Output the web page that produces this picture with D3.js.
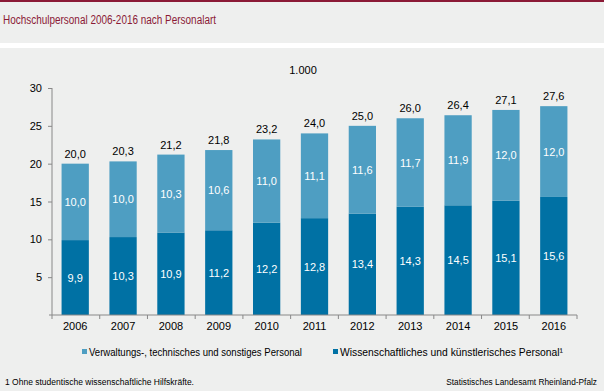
<!DOCTYPE html>
<html><head><meta charset="utf-8">
<script src="https://cdn.jsdelivr.net/npm/d3@7"></script>
<style>
html,body{margin:0;padding:0;background:#eeefee;}
svg{display:block;font-family:"Liberation Sans",Arial,sans-serif;}
</style></head>
<body><svg id="c" width="605" height="391"></svg>
<script>
const years = ["2006","2007","2008","2009","2010","2011","2012","2013","2014","2015","2016"];
const wissenschaftlich = [9.9,10.3,10.9,11.2,12.2,12.8,13.4,14.3,14.5,15.1,15.6];
const verwaltung = [10.0,10.0,10.3,10.6,11.0,11.1,11.6,11.7,11.9,12.0,12.0];
const totals = [20.0,20.3,21.2,21.8,23.2,24.0,25.0,26.0,26.4,27.1,27.6];
const yTicks = [5,10,15,20,25,30];
const seriesNames = ["Verwaltungs-, technisches und sonstiges Personal","Wissenschaftliches und künstlerisches Personal¹"];
const colors = {dark:"#0071a4", light:"#4e9ec2"};

const fmt = v => v.toFixed(1).replace(".", ",");
const svg = d3.select("#c");
svg.append("rect").attr("x",0).attr("y",0).attr("width",605).attr("height",391).attr("fill","#eeefee");
svg.append("rect").attr("x",0).attr("y",0).attr("width",605).attr("height",2).attr("fill","#8b1a36");
svg.append("rect").attr("x",0).attr("y",43).attr("width",605).attr("height",5).attr("fill","#ffffff");
svg.append("rect").attr("x",604).attr("y",0).attr("width",1).attr("height",391).attr("fill","#ffffff");
svg.append("text").attr("x",3).attr("y",24).attr("fill","#8b1a36").attr("font-size",12)
  .attr("textLength",213).attr("lengthAdjust","spacingAndGlyphs")
  .text("Hochschulpersonal 2006-2016 nach Personalart");

const x = d3.scaleBand().domain(years).range([52,577]).paddingInner(0.43).paddingOuter(0.2);
const y = d3.scaleLinear().domain([0,30]).range([315,88]);

svg.append("text").attr("x",303).attr("y",74).attr("text-anchor","middle").attr("font-size",11).attr("fill","#000").text("1.000");

const g = svg.append("g");
years.forEach((yr,i)=>{
  const d = wissenschaftlich[i], l = verwaltung[i];
  g.append("rect").attr("x",x(yr)).attr("width",x.bandwidth()).attr("y",y(d)).attr("height",y(0)-y(d)).attr("fill",colors.dark);
  g.append("rect").attr("x",x(yr)).attr("width",x.bandwidth()).attr("y",y(totals[i])).attr("height",y(d)-y(totals[i])).attr("fill",colors.light);
  const cx = x(yr)+x.bandwidth()/2;
  g.append("text").attr("x",cx).attr("y",y(d/2)+4).attr("text-anchor","middle").attr("fill","#fff").attr("font-size",11).text(fmt(d));
  g.append("text").attr("x",cx).attr("y",y((d+totals[i])/2)+4).attr("text-anchor","middle").attr("fill","#fff").attr("font-size",11).text(fmt(l));
  g.append("text").attr("x",cx).attr("y",y(totals[i])-6).attr("text-anchor","middle").attr("fill","#000").attr("font-size",11).text(fmt(totals[i]));
});

const ya = svg.append("g").attr("transform","translate(52,0)")
  .call(d3.axisLeft(y).tickValues(yTicks).tickSize(4).tickPadding(6).tickFormat(d=>d));
ya.select(".domain").attr("d","M0,88V315").attr("stroke","#888");
ya.selectAll(".tick line").attr("stroke","#888");
ya.selectAll("text").attr("font-size",11).attr("fill","#000").attr("font-family","Liberation Sans, Arial, sans-serif");

const xa = svg.append("g").attr("transform","translate(0,315)");
xa.append("line").attr("x1",49).attr("x2",577).attr("y1",0).attr("y2",0).attr("stroke","#888");
const step = (577-52)/years.length;
d3.range(years.length+1).forEach(k=>{
  xa.append("line").attr("x1",52+k*step).attr("x2",52+k*step).attr("y1",0).attr("y2",4).attr("stroke","#888");
});
years.forEach(yr=>{
  xa.append("text").attr("x",x(yr)+x.bandwidth()/2).attr("y",15).attr("text-anchor","middle").attr("font-size",11).attr("fill","#000").text(yr);
});

const leg = svg.append("g");
[[82,colors.light,seriesNames[0],213],[333,colors.dark,seriesNames[1],223]].forEach(([lx,c,t,w])=>{
  leg.append("rect").attr("x",lx).attr("y",349).attr("width",5).attr("height",5).attr("fill",c);
  leg.append("text").attr("x",lx+7).attr("y",356).attr("font-size",11).attr("fill","#000")
    .attr("textLength",w).attr("lengthAdjust","spacingAndGlyphs").text(t);
});

svg.append("text").attr("x",5).attr("y",385).attr("font-size",8.5).attr("fill","#000")
  .text("1 Ohne studentische wissenschaftliche Hilfskräfte.");
svg.append("text").attr("x",597).attr("y",385).attr("text-anchor","end").attr("font-size",8.3).attr("fill","#000")
  .text("Statistisches Landesamt Rheinland-Pfalz");
</script></body></html>
